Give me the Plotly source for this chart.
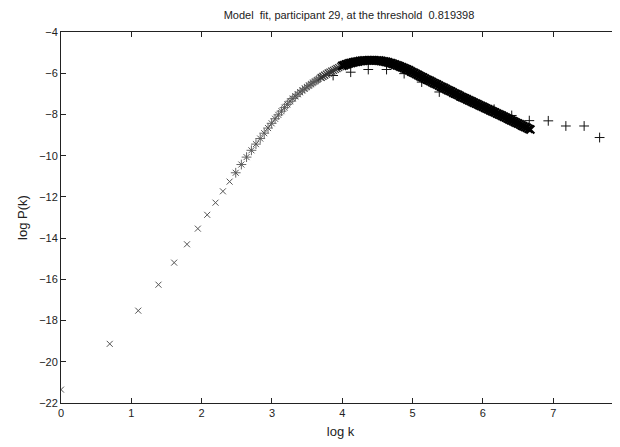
import numpy as np
import plotly.graph_objects as go

model_k = list(range(1, 41))
model_logp_low = [
    -21.35, -19.13, -17.52, -16.26, -15.19, -14.30, -13.54, -12.87, -12.28, -11.73,
    -11.26, -10.83, -10.43, -10.07, -9.74, -9.44, -9.17, -8.91, -8.66, -8.43,
    -8.21, -8.02, -7.84, -7.67, -7.51, -7.36, -7.23, -7.12, -7.02, -6.92,
    -6.83, -6.75, -6.67, -6.60, -6.53, -6.46, -6.40, -6.33, -6.28, -6.22,
]

model_logk_dense = [
    3.700, 3.725, 3.750, 3.775, 3.800, 3.825, 3.850, 3.875, 3.900, 3.925,
    3.950, 3.975, 4.000, 4.025, 4.050, 4.075, 4.100, 4.125, 4.150, 4.175,
    4.200, 4.225, 4.250, 4.275, 4.300, 4.325, 4.350, 4.375, 4.400, 4.425,
    4.450, 4.475, 4.500, 4.525, 4.550, 4.575, 4.600, 4.625, 4.650, 4.675,
    4.700, 4.725, 4.750, 4.775, 4.800, 4.825, 4.850, 4.875, 4.900, 4.925,
    4.950, 4.975, 5.000, 5.025, 5.050, 5.075, 5.100, 5.125, 5.150, 5.175,
    5.200, 5.225, 5.250, 5.275, 5.300, 5.325, 5.350, 5.375, 5.400, 5.425,
    5.450, 5.475, 5.500, 5.525, 5.550, 5.575, 5.600, 5.625, 5.650, 5.675,
    5.700, 5.725, 5.750, 5.775, 5.800, 5.825, 5.850, 5.875, 5.900, 5.925,
    5.950, 5.975, 6.000, 6.025, 6.050, 6.075, 6.100, 6.125, 6.150, 6.175,
    6.200, 6.225, 6.250, 6.275, 6.300, 6.325, 6.350, 6.375, 6.400, 6.425,
    6.450, 6.475, 6.500, 6.525, 6.550, 6.575, 6.600, 6.625, 6.650, 6.675,
]
model_logp_dense = [
    -6.20, -6.15, -6.10, -6.04, -5.99, -5.95, -5.90, -5.86, -5.81, -5.77,
    -5.73, -5.68, -5.64, -5.61, -5.58, -5.55, -5.52, -5.50, -5.48, -5.46,
    -5.44, -5.43, -5.41, -5.40, -5.39, -5.38, -5.38, -5.37, -5.37, -5.37,
    -5.37, -5.38, -5.38, -5.39, -5.40, -5.42, -5.43, -5.45, -5.47, -5.50,
    -5.52, -5.55, -5.58, -5.61, -5.64, -5.68, -5.71, -5.75, -5.78, -5.82,
    -5.86, -5.91, -5.95, -5.99, -6.04, -6.08, -6.13, -6.17, -6.21, -6.26,
    -6.30, -6.34, -6.38, -6.43, -6.47, -6.51, -6.55, -6.60, -6.64, -6.68,
    -6.72, -6.77, -6.81, -6.85, -6.89, -6.94, -6.98, -7.02, -7.06, -7.11,
    -7.15, -7.19, -7.23, -7.27, -7.31, -7.35, -7.39, -7.43, -7.47, -7.51,
    -7.55, -7.59, -7.63, -7.67, -7.71, -7.75, -7.79, -7.83, -7.87, -7.91,
    -7.95, -7.99, -8.03, -8.07, -8.11, -8.15, -8.20, -8.24, -8.28, -8.32,
    -8.36, -8.40, -8.44, -8.48, -8.53, -8.57, -8.61, -8.65, -8.69, -8.73,
]

# participant data (+ markers): single degrees k = 12..40, then log-binned points
data_k = list(range(12, 41))
data_logp_low = [
    -10.83, -10.43, -10.07, -9.74, -9.44, -9.17, -8.91, -8.66, -8.43, -8.21,
    -8.02, -7.84, -7.67, -7.51, -7.36, -7.23, -7.12, -7.02, -6.92, -6.83,
    -6.75, -6.67, -6.60, -6.53, -6.46, -6.40, -6.33, -6.28, -6.22,
]
data_logk_bins = [3.87, 4.12, 4.37, 4.63, 4.88, 5.13, 5.38, 5.64, 5.90, 6.16, 6.41, 6.66, 6.93, 7.18, 7.44, 7.66]
data_logp_bins = [-6.11, -5.95, -5.82, -5.82, -6.02, -6.43, -6.91, -7.10, -7.45, -7.75, -8.05, -8.30, -8.31, -8.56, -8.56, -9.12]

fig = go.Figure()
# single-degree data points sit on the model curve, drawn lighter like the anti-aliased original
fig.add_trace(go.Scatter(
    x=list(np.log(data_k)), y=data_logp_low, mode='markers',
    marker=dict(symbol='cross-thin', size=7, line=dict(width=1, color='#666666')),
    showlegend=False))
fig.add_trace(go.Scatter(
    x=data_logk_bins, y=data_logp_bins, mode='markers',
    marker=dict(symbol='cross-thin', size=7, line=dict(width=1, color='#111111')),
    showlegend=False))
fig.add_trace(go.Scatter(
    x=list(np.log(model_k)), y=model_logp_low, mode='markers',
    marker=dict(symbol='x-thin', size=6, line=dict(width=1, color='#555555')),
    showlegend=False))
# dense part: first stretch still shows separate markers, then it merges into a solid band
n_fade = 12
fig.add_trace(go.Scatter(
    x=model_logk_dense[:n_fade], y=model_logp_dense[:n_fade], mode='markers',
    marker=dict(symbol='x-thin', size=7, line=dict(width=1.2, color='#333333')),
    showlegend=False))
fig.add_trace(go.Scatter(
    x=model_logk_dense[n_fade:], y=model_logp_dense[n_fade:], mode='markers',
    marker=dict(symbol='x-thin', size=8, line=dict(width=2.2, color='#000000')),
    showlegend=False))

axis_style = dict(
    showline=True, linecolor='#222222', linewidth=1, mirror='allticks',
    ticks='inside', ticklen=5, tickcolor='#222222', tickwidth=1,
    showgrid=False, zeroline=False, automargin=False,
    tickfont=dict(family='Liberation Sans', size=11, color='#222222'),
)

fig.update_layout(
    width=620, height=447,
    margin=dict(l=53, r=8, t=24, b=52),
    paper_bgcolor='white', plot_bgcolor='white',
    font=dict(family='Liberation Sans', size=11, color='#222222'),
    title=dict(text='Model\u00a0 fit, participant 29, at the threshold\u00a0 0.819398',
               x=0.55, xanchor='center', y=0.984, yanchor='middle',
               font=dict(size=11)),
    xaxis=dict(range=[0, 7.95], dtick=1, tick0=0,
               title=dict(text='log k', standoff=8), **axis_style),
    yaxis=dict(range=[-22, -4], dtick=2, tick0=-22,
               title=dict(text='log P(k)', standoff=8), **axis_style),
)

fig.write_html("out.html")
